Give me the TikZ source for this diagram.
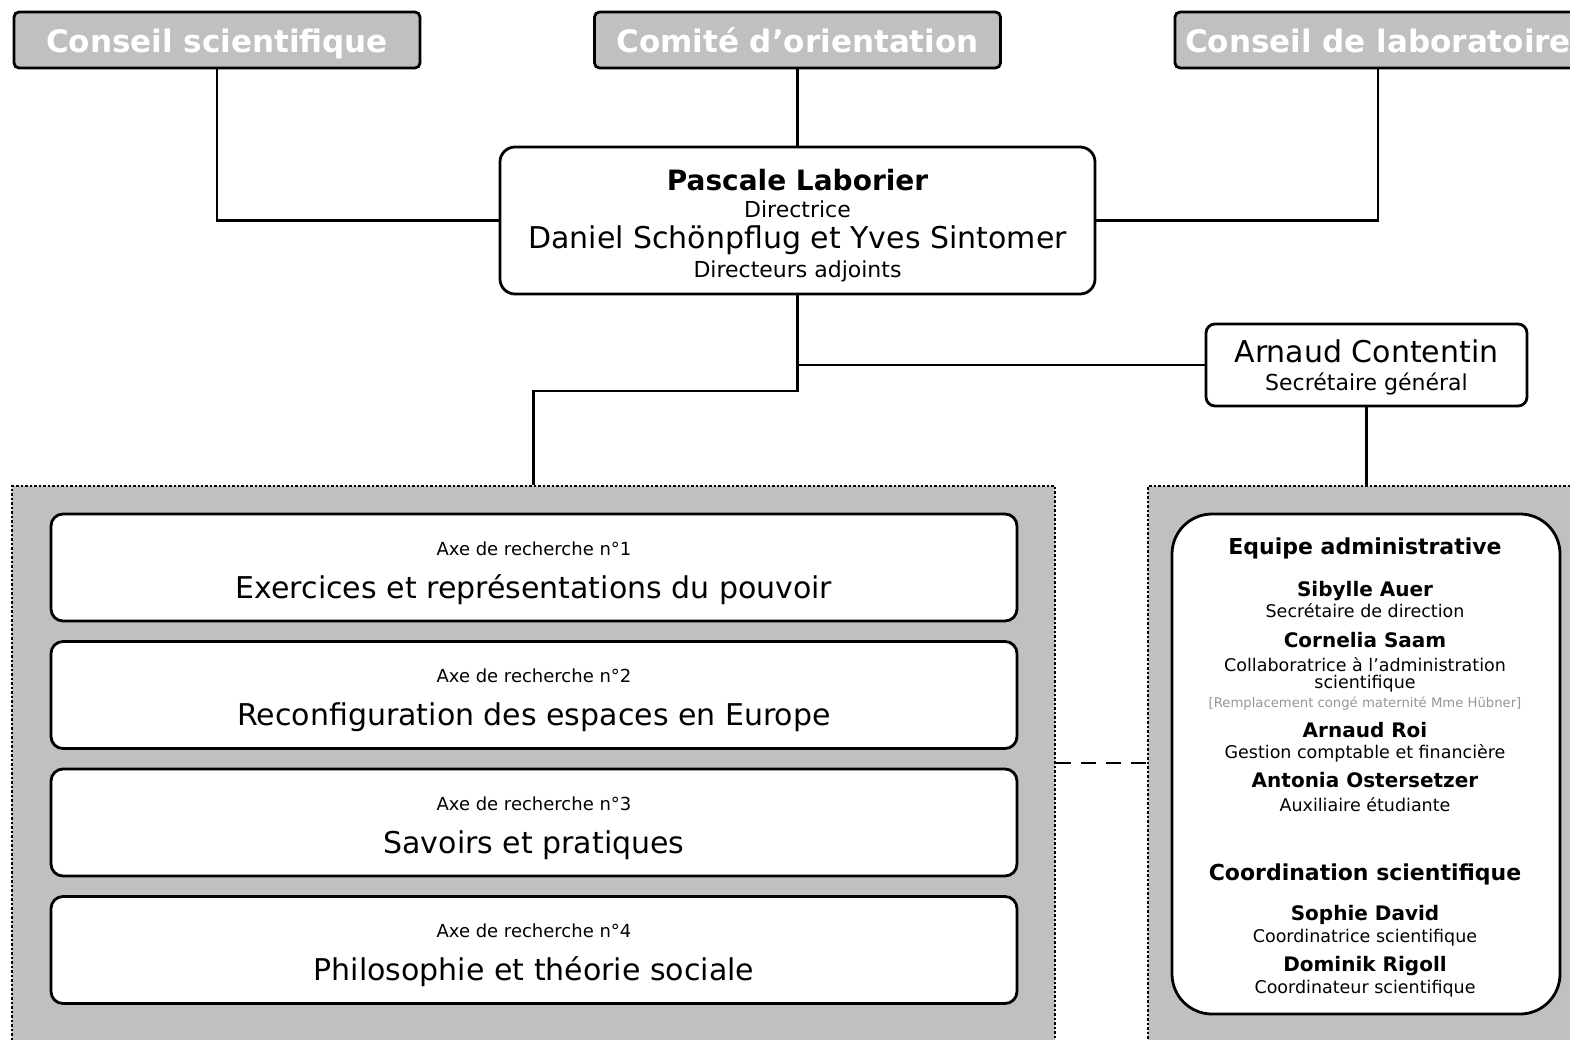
\documentclass[tikz,border=0pt]{standalone}
\usepackage{fontspec}
\setmainfont{DejaVu Sans}
\usepackage{tikz}

\definecolor{boardgray}{RGB}{192,192,192}
\definecolor{notegray}{RGB}{150,150,150}

\newcommand\teamhead{\bfseries\fontsize{22}{22}\selectfont}
\newcommand\teamname{\bfseries\fontsize{20}{20}\selectfont}
\newcommand\teamrole{\fontsize{17.5}{17.5}\selectfont}
\newcommand\teamnote{\color{notegray}\fontsize{13.2}{13.2}\selectfont}

\tikzset{
  council/.style={draw, line width=2.8pt, rounded corners=5pt, fill=boardgray, text=white,
    minimum width=406pt, minimum height=56pt, inner sep=0pt, text height=24pt, text depth=0pt,
    font=\bfseries\fontsize{31}{37}\selectfont},
  person/.style={draw, line width=2.8pt, fill=white, inner sep=0pt},
  panel/.style={draw, fill=boardgray, line width=2.5pt, dash pattern=on 2.5pt off 2pt, inner sep=0pt},
  axisbox/.style={draw, line width=2.8pt, fill=white, rounded corners=12pt,
    minimum width=966pt, minimum height=107pt, inner sep=0pt},
  link/.style={line width=2.8pt},
  nametext/.style={anchor=base, inner sep=0pt, font=\bfseries\fontsize{#1}{#1}\selectfont},
  roletext/.style={anchor=base, inner sep=0pt, font=\fontsize{#1}{#1}\selectfont},
}

\begin{document}
\begin{tikzpicture}[x=1pt, y=-1pt]
  \useasboundingbox (0,0) rectangle (1570,1039);
  \clip (0,0) rectangle (1570,1039);

  % grey panels
  \node[panel, minimum width=1043pt, minimum height=580pt] (axes) at (533.5,776) {};
  \node[panel, minimum width=452pt, minimum height=580pt] (team) at (1374,776) {};

  % councils
  \node[council] (cs) at (217,40) {Conseil scientifique};
  \node[council] (co) at (797.5,40) {Comité d’orientation};
  \node[council] (cl) at (1378,40) {Conseil de laboratoire};

  % direction
  \node[person, rounded corners=15pt, minimum width=595pt, minimum height=147pt] (dir) at (797.5,220.5) {};
  \node[nametext=28] (dir-name) at (797.5,190) {Pascale Laborier};
  \node[roletext=22] (dir-role) at (797.5,217) {Directrice};
  \node[roletext=30] (deputy-name) at (797.5,248) {Daniel Schönpflug et Yves Sintomer};
  \node[roletext=22] (deputy-role) at (797.5,277) {Directeurs adjoints};

  % secretary general
  \node[person, rounded corners=9pt, minimum width=321pt, minimum height=82pt] (sg) at (1366.5,365) {};
  \node[roletext=30] (sg-name) at (1366.5,362) {Arnaud Contentin};
  \node[roletext=22] (sg-role) at (1366.5,390) {Secrétaire général};

  % research axes
  \foreach \i/\y/\t in {1/567.5/Exercices et représentations du pouvoir,
                        2/695/Reconfiguration des espaces en Europe,
                        3/822.5/Savoirs et pratiques,
                        4/950/Philosophie et théorie sociale} {
    \node[axisbox] (axis\i) at (534,\y) {};
    \node[roletext=18] (axis\i-no) at ([yshift=12.5pt]axis\i.center) {Axe de recherche n°\i};
    \node[roletext=30] (axis\i-title) at ([yshift=-30.5pt]axis\i.center) {\t};
  }

  % staff
  \node[person, rounded corners=40pt, minimum width=388pt, minimum height=500pt] (staff) at (1366,764) {};
  \foreach \y/\t [count=\k] in {554/\teamhead Equipe administrative,
                                596/\teamname Sibylle Auer,
                                617/\teamrole Secrétaire de direction,
                                647/\teamname Cornelia Saam,
                                671/\teamrole Collaboratrice à l’administration,
                                688/\teamrole scientifique,
                                707/\teamnote [Remplacement congé maternité Mme Hübner],
                                737/\teamname Arnaud Roi,
                                758/\teamrole Gestion comptable et financière,
                                787/\teamname Antonia Ostersetzer,
                                811/\teamrole Auxiliaire étudiante,
                                880/\teamhead Coordination scientifique,
                                920/\teamname Sophie David,
                                942/\teamrole Coordinatrice scientifique,
                                971/\teamname Dominik Rigoll,
                                993/\teamrole Coordinateur scientifique} {
    \node[anchor=base, inner sep=0pt] (staff-\k) at (1365,\y) {\t};
  }

  % links
  \draw[link] (cs.south) |- (dir.west);
  \draw[link] (co.south) -- (dir.north);
  \draw[link] (cl.south) |- (dir.east);
  \coordinate (fork) at (797.5,391);
  \coordinate (gap) at (1100,763);
  \draw[link] (dir.south) |- (sg.west);
  \draw[link] (dir.south) -- (fork) -| (axes.north);
  \draw[link] (sg.south) -- (sg.south |- team.north);
  \draw[link, dash pattern=on 15pt off 10pt] (axes.east |- gap) -- (team.west |- gap);
\end{tikzpicture}
\end{document}
